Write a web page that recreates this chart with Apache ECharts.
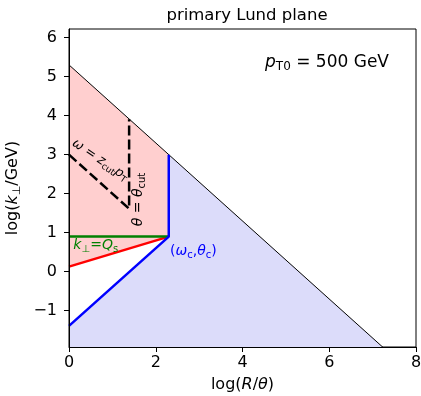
<!DOCTYPE html>
<html><head><meta charset="utf-8">
<script src="https://cdn.jsdelivr.net/npm/echarts@6/dist/echarts.min.js"></script>
<style>html,body{margin:0;padding:0;background:#fff}#c{width:421px;height:396px}</style>
</head><body><div id="c"></div>
<script>
// ---- data ----
const xTicks = [0, 2, 4, 6, 8];
const yTicks = [-1, 0, 1, 2, 3, 4, 5, 6];
const xRange = [0, 8];
const yRange = [-1.93, 6.22];
const kinematicLimit = [[0, 5.3], [7.3, -2.0]];
const zcutLine = [[0, 3.0], [1.386, 1.614], [1.386, 3.91]];
const qsLine = [[0, 0.9], [2.3, 0.9]];
const redLine = [[0, 0.13], [2.3, 0.9]];
const blueLine = [[0, -1.39], [2.3, 0.9], [2.3, 3.0]];
const pinkRegion = [[0, 0.13], [2.3, 0.9], [2.3, 3.0], [0, 5.3]];
const blueRegion = [[0, -1.39], [2.3, 0.9], [2.3, 3.0], [7.3, -2.0], [0, -2.0]];

const FONT = 'DejaVu Sans';

function polySeries(pts, color) {
  return {
    type: 'custom', coordinateSystem: 'cartesian2d', clip: true, silent: true, z: 1,
    data: [pts[0]],
    renderItem: (p, api) => ({
      type: 'polygon',
      shape: { points: pts.map(q => api.coord(q)) },
      style: { fill: color }
    })
  };
}
function lineSeries(pts, color, width, dash, z) {
  return {
    type: 'line', data: pts, showSymbol: false, silent: true, clip: true, z: z || 3,
    lineStyle: { color: color, width: width, type: dash || 'solid', cap: 'butt' }
  };
}
function textSeries(pos, text, size, color, rotDeg, align, rich) {
  return {
    type: 'custom', coordinateSystem: 'cartesian2d', silent: true, z: 10, clip: false,
    data: [pos],
    renderItem: (p, api) => {
      const c = api.coord(pos);
      return {
        type: 'text', x: c[0], y: c[1], rotation: rotDeg * Math.PI / 180,
        style: {
          text: text, fill: color, fontSize: size, fontFamily: FONT,
          align: align, verticalAlign: 'middle', rich: rich
        }
      };
    }
  };
}
function mkRich(size, color) {
  return {
    it: { fontStyle: 'italic', fontFamily: FONT, fontSize: size, color: color },
    subr: { fontFamily: FONT, fontSize: Math.round(size * 0.7), color: color, padding: [Math.round(size * 0.55), 0, 0, 0] },
    n: { fontFamily: FONT, fontSize: size, color: color }
  };
}

const chart = echarts.init(document.getElementById('c'), null, { renderer: 'canvas' });
const minus = v => String(v).replace('-', '\u2212');

chart.setOption({
  animation: false,
  backgroundColor: '#fff',
  title: {
    text: 'primary Lund plane', left: 242, top: 2, textAlign: 'center',
    textStyle: { fontFamily: FONT, fontSize: 16.5, fontWeight: 'normal', color: '#000' }
  },
  grid: { left: 69, right: 5, top: 29, bottom: 49, outerBoundsMode: 'none', containLabel: false, show: true, borderColor: '#000', borderWidth: 1, backgroundColor: 'transparent' },
  xAxis: {
    type: 'value', min: xRange[0], max: xRange[1], interval: 2, z: 20,
    splitLine: { show: false },
    axisLine: { show: true, onZero: false, lineStyle: { color: '#000', width: 1 } },
    axisTick: { show: true, inside: false, length: 5, lineStyle: { color: '#000' } },
    axisLabel: { margin: 8, fontFamily: FONT, fontSize: 16, color: '#000', customValues: xTicks },
    name: '{n|log(}{it|R}{n|/}{it|θ}{n|)}', nameLocation: 'middle', nameGap: 30,
    nameTextStyle: { fontFamily: FONT, fontSize: 16, color: '#000', rich: mkRich(16, '#000') }
  },
  yAxis: {
    type: 'value', min: yRange[0], max: yRange[1], z: 20,
    splitLine: { show: false },
    axisLine: { show: true, onZero: false, lineStyle: { color: '#000', width: 1 } },
    axisTick: { show: true, inside: false, length: 5, lineStyle: { color: '#000' }, customValues: yTicks },
    axisLabel: { margin: 12, fontFamily: FONT, fontSize: 16, color: '#000', customValues: yTicks, formatter: minus },
    name: '{n|log(}{it|k}{subr|⊥}{n|/GeV)}', nameLocation: 'middle', nameGap: 41, nameRotate: 90,
    nameTextStyle: { fontFamily: FONT, fontSize: 16, color: '#000', rich: mkRich(16, '#000') }
  },
  series: [
    polySeries(pinkRegion, '#ffcfcf'),
    polySeries(blueRegion, '#dcdcfa'),
    lineSeries(kinematicLimit, '#000', 1, 'solid', 2),
    lineSeries(zcutLine, '#000', 2.5, [10, 4], 3),
    lineSeries(redLine, '#ff0000', 2.5, 'solid', 3),
    lineSeries(qsLine, '#008000', 2.5, 'solid', 4),
    lineSeries(blueLine, '#0000ff', 2.5, 'solid', 5),
    textSeries([4.52, 5.37], '{it|p}{subr|T0}{n| = 500 GeV}', 17, '#000', 0, 'left', mkRich(17, '#000')),
    textSeries([0.72, 2.86], '{it|ω}{n| = }{it|z}{subr|cut}{it|p}{subr|T}', 13, '#000', -34, 'center', mkRich(13, '#000')),
    textSeries([1.61, 1.85], '{it|θ}{n| = }{it|θ}{subr|cut}', 14, '#000', 90, 'center', mkRich(14, '#000')),
    textSeries([0.1, 0.68], '{it|k}{subr|⊥}{n|=}{it|Q}{subr|s}', 14, '#008000', 0, 'left', mkRich(14, '#008000')),
    textSeries([2.33, 0.53], '{n|(}{it|ω}{subr|c}{n|,}{it|θ}{subr|c}{n|)}', 14, '#0000ff', 0, 'left', mkRich(14, '#0000ff'))
  ]
});
</script></body></html>
